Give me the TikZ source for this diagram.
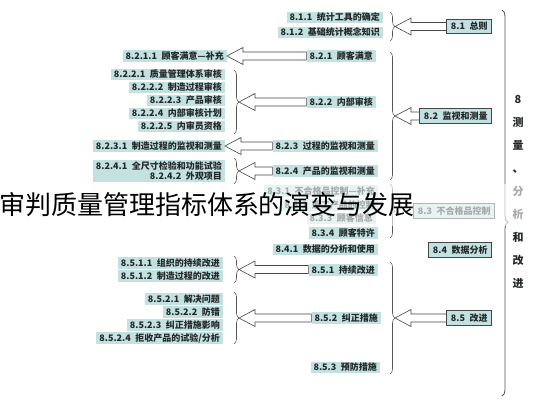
\documentclass[tikz,border=0pt]{standalone}
\usepackage{fontspec}
\setmainfont{Noto Sans CJK SC}
\usetikzlibrary{calc}
\usetikzlibrary{decorations.pathreplacing}
\definecolor{boxfill}{RGB}{196,225,226}
\definecolor{boxline}{RGB}{70,70,70}
\definecolor{inktext}{RGB}{35,40,40}
\definecolor{braceline}{RGB}{85,85,85}

% hollow block arrow from the west side of a box to a point
\newcommand{\fatarrow}[2]{%
  \draw[hollow] let \p1=(#1.west), \p2=(#2) in
    (\x1,\y2+4pt) -- (\x2+16pt,\y2+4pt) -- (\x2+16pt,\y2+8.5pt) -- (\x2,\y2)
    -- (\x2+16pt,\y2-8.5pt) -- (\x2+16pt,\y2-4pt) -- (\x1,\y2-4pt) -- cycle;}

\begin{document}
\begin{tikzpicture}[
    x=1pt, y=-1pt,
    headbox/.style={
        rectangle,
        draw=boxline,
        fill=boxfill,
        line width=0.9pt,
        inner xsep=4pt,
        inner ysep=3pt,
        anchor=east,
        font=\fontsize{9}{10}\selectfont\bfseries,
        text=inktext
    },
    itembox/.style={
        rectangle,
        fill=boxfill,
        inner xsep=3pt,
        inner ysep=1.5pt,
        anchor=east,
        font=\fontsize{9}{10}\selectfont\bfseries,
        text=inktext
    },
    hollow/.style={
        draw=boxline,
        fill=white,
        line width=0.6pt,
        line join=miter
    },
    curly/.style={
        draw=braceline,
        line width=0.6pt,
        decorate,
        decoration={brace, amplitude=5pt}
    },
    bigcurly/.style={
        draw=braceline,
        line width=0.8pt,
        decorate,
        decoration={brace, amplitude=6pt, aspect=0.55}
    },
    sidetext/.style={
        align=center,
        inner sep=0pt,
        font=\fontsize{11}{23}\selectfont\bfseries,
        text=inktext
    },
    headline/.style={
        inner sep=0pt,
        font=\fontsize{26}{26}\selectfont,
        text=black
    }
]
\useasboundingbox (0,0) rectangle (533,400);

% big brace and side title
\draw[bigcurly] (502,10) -- (502,396);
\node[sidetext] (side) at (518,192) {8\\测\\量\\、\\分\\析\\和\\改\\进};

% first level
\node[headbox] (s81) at (492,26.5) {8.1\enskip 总则};
\node[headbox] (s82) at (492,116) {8.2\enskip 监视和测量};
\node[headbox] (s83) at (495,211) {8.3\enskip 不合格品控制};
\node[headbox] (s84) at (492,250) {8.4\enskip 数据分析};
\node[headbox] (s85) at (492,318) {8.5\enskip 改进};

% second level
\node[itembox] (s811) at (383,17.5) {8.1.1\enskip 统计工具的确定};
\node[itembox] (s812) at (383,32.5) {8.1.2\enskip 基础统计概念知识};
\node[itembox] (s821) at (376,56) {8.2.1\enskip 顾客满意};
\node[itembox] (s822) at (376,102) {8.2.2\enskip 内部审核};
\node[itembox] (s823) at (378,146) {8.2.3\enskip 过程的监视和测量};
\node[itembox] (s824) at (378,171) {8.2.4\enskip 产品的监视和测量};
\node[itembox] (s831) at (378,191) {8.3.1\enskip 不合格品控制—补充};
\node[itembox] (s832) at (378,205) {8.3.2\enskip 返工产品的控制};
\node[itembox] (s833) at (376,218.5) {8.3.3\enskip 顾客信息};
\node[itembox] (s834) at (378,233) {8.3.4\enskip 顾客特许};
\node[itembox] (s841) at (378,249.5) {8.4.1\enskip 数据的分析和使用};
\node[itembox] (s851) at (378,270) {8.5.1\enskip 持续改进};
\node[itembox] (s852) at (381,318) {8.5.2\enskip 纠正措施};
\node[itembox] (s853) at (380,367.5) {8.5.3\enskip 预防措施};

% third level
\node[itembox] (s8211) at (227,56) {8.2.1.1\enskip 顾客满意—补充};
\node[itembox] (s8221) at (225,74.5) {8.2.2.1\enskip 质量管理体系审核};
\node[itembox] (s8222) at (225,87.5) {8.2.2.2\enskip 制造过程审核};
\node[itembox] (s8223) at (225,100.5) {8.2.2.3\enskip 产品审核};
\node[itembox] (s8224) at (225,113.5) {8.2.2.4\enskip 内部审核计划};
\node[itembox] (s8225) at (225,126.5) {8.2.2.5\enskip 内审员资格};
\node[itembox] (s8231) at (225,146) {8.2.3.1\enskip 制造过程的监视和测量};
\node[itembox, align=right] (s8241) at (225,171)
    {8.2.4.1\enskip 全尺寸检验和功能试验\\8.2.4.2\enskip 外观项目};
\node[itembox] (s8511) at (223,263) {8.5.1.1\enskip 组织的持续改进};
\node[itembox] (s8512) at (223,276) {8.5.1.2\enskip 制造过程的改进};
\node[itembox] (s8521) at (223,299) {8.5.2.1\enskip 解决问题};
\node[itembox] (s8522) at (223,312) {8.5.2.2\enskip 防错};
\node[itembox] (s8523) at (223,325) {8.5.2.3\enskip 纠正措施影响};
\node[itembox] (s8524) at (223,338) {8.5.2.4\enskip 拒收产品的试验/分析};

% braces
\draw[curly] (390,12) -- node[coordinate, midway, xshift=5pt] (c81) {} (390,41);
\draw[curly] (390,52) -- node[coordinate, midway, xshift=5pt] (c82) {} (390,180);
\draw[curly] (390,184) -- node[coordinate, midway, xshift=5pt] (c83) {} (390,238);
\draw[curly] (390,262) -- node[coordinate, midway, xshift=5pt] (c85) {} (390,374);
\draw[curly] (234,70) -- node[coordinate, midway, xshift=5pt] (c822) {} (234,134);
\draw[curly] (234,158) -- node[coordinate, midway, xshift=5pt] (c824) {} (234,184);
\draw[curly] (234,256) -- node[coordinate, midway, xshift=5pt] (c851) {} (234,283);
\draw[curly] (234,292) -- node[coordinate, midway, xshift=5pt] (c852) {} (234,344);

% block arrows
\fatarrow{s81}{c81}
\fatarrow{s82}{c82}
\fatarrow{s85}{c85}
\fatarrow{s821}{s8211.east}
\fatarrow{s822}{c822}
\fatarrow{s823}{s8231.east}
\fatarrow{s824}{c824}
\fatarrow{s851}{c851}
\fatarrow{s852}{c852}

% faded band and title on top
\fill[white, fill opacity=0.6] (262,184) rectangle (533,226);
\node[headline] (title) at (207,205) {审判质量管理指标体系的演变与发展};

\end{tikzpicture}
\end{document}
